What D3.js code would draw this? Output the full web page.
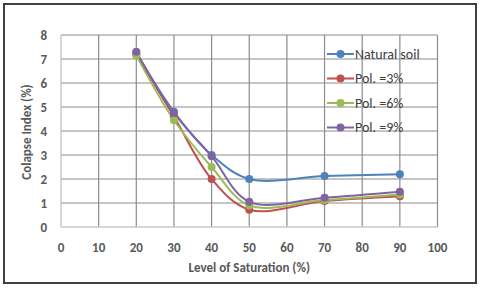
<!DOCTYPE html>
<html>
<head>
<meta charset="utf-8">
<script src="https://cdn.jsdelivr.net/npm/d3@7"></script>
<style>
  body { margin: 0; background: #fff; }
  svg { display: block; font-family: Calibri, Carlito, "Liberation Sans", "Open Sans", sans-serif; }
</style>
</head>
<body>
<div id="chart"></div>
<script>
// data
var saturation = [20, 30, 40, 50, 70, 90];
var seriesNames = ["Natural soil", "Pol. =3%", "Pol. =6%", "Pol. =9%"];
var naturalSoil = [7.25, 4.8, 3.0, 2.0, 2.12, 2.2];
var pol3 = [7.2, 4.6, 2.0, 0.72, 1.08, 1.28];
var pol6 = [7.15, 4.45, 2.5, 0.9, 1.12, 1.35];
var pol9 = [7.3, 4.75, 2.95, 1.05, 1.22, 1.47];
var xTicks = [0, 10, 20, 30, 40, 50, 60, 70, 80, 90, 100];
var yTicks = [0, 1, 2, 3, 4, 5, 6, 7, 8];

var colors = ["#4F81BD", "#C0504D", "#9BBB59", "#8064A2"];
var allSeries = [naturalSoil, pol3, pol6, pol9];

var W = 480, H = 288;
var svg = d3.select("#chart").append("svg").attr("width", W).attr("height", H);

// outer frame
svg.append("rect").attr("x", 4).attr("y", 4).attr("width", 472).attr("height", 279)
  .attr("fill", "#fff").attr("stroke", "#404040").attr("stroke-width", 2);

var x = d3.scaleLinear().domain([0, 100]).range([61, 437.5]);
var y = d3.scaleLinear().domain([0, 8]).range([227, 35]);

// grid
svg.append("g").selectAll("line").data(xTicks.slice(1)).enter().append("line")
  .attr("x1", function(d) { return x(d); }).attr("x2", function(d) { return x(d); })
  .attr("y1", y(8)).attr("y2", y(0))
  .attr("stroke", "#8c8c8c").attr("stroke-width", 1.2);
svg.append("g").selectAll("line").data(yTicks.slice(1)).enter().append("line")
  .attr("x1", x(0)).attr("x2", x(100))
  .attr("y1", function(d) { return y(d); }).attr("y2", function(d) { return y(d); })
  .attr("stroke", "#8c8c8c").attr("stroke-width", 1.2);

// axes lines
svg.append("line").attr("x1", x(0)).attr("x2", x(0)).attr("y1", y(8)).attr("y2", y(0))
  .attr("stroke", "#c8c8c8").attr("stroke-width", 1.5);
svg.append("line").attr("x1", x(0)).attr("x2", x(100)).attr("y1", y(0)).attr("y2", y(0))
  .attr("stroke", "#c8c8c8").attr("stroke-width", 1.5);

// tick labels
svg.append("g").selectAll("text").data(xTicks).enter().append("text")
  .attr("x", function(d) { return x(d); }).attr("y", 252)
  .attr("text-anchor", "middle").attr("font-size", 13).attr("font-weight", "bold")
  .attr("fill", "#595959").text(function(d) { return d; });
svg.append("g").selectAll("text").data(yTicks).enter().append("text")
  .attr("x", 47).attr("y", function(d) { return y(d) + 4.5; })
  .attr("text-anchor", "end").attr("font-size", 13).attr("font-weight", "bold")
  .attr("fill", "#595959").text(function(d) { return d; });

// axis titles
svg.append("text").attr("x", x(50)).attr("y", 272).attr("text-anchor", "middle")
  .attr("font-size", 13).attr("font-weight", "bold").attr("fill", "#595959")
  .text("Level of Saturation (%)");
svg.append("text").attr("transform", "translate(31," + (y(4) + 1) + ") rotate(-90)")
  .attr("text-anchor", "middle").attr("font-size", 13).attr("font-weight", "bold")
  .attr("fill", "#595959").text("Colapse Index (%)");

// lines
var line = d3.line()
  .x(function(d, i) { return x(saturation[i]); })
  .y(function(d) { return y(d); })
  .curve(d3.curveCatmullRom.alpha(0.5));

var g = svg.append("g");
allSeries.forEach(function(vals, k) {
  g.append("path").attr("d", line(vals)).attr("fill", "none")
    .attr("stroke", colors[k]).attr("stroke-width", 2);
});
allSeries.forEach(function(vals, k) {
  g.selectAll(".m" + k).data(vals).enter().append("circle")
    .attr("cx", function(d, i) { return x(saturation[i]); })
    .attr("cy", function(d) { return y(d); })
    .attr("r", 4).attr("fill", colors[k]);
});

// legend
var legend = svg.append("g");
seriesNames.forEach(function(name, k) {
  var ly = 54 + k * 24.5;
  legend.append("line").attr("x1", 327).attr("x2", 354).attr("y1", ly).attr("y2", ly)
    .attr("stroke", colors[k]).attr("stroke-width", 2);
  legend.append("circle").attr("cx", 340.5).attr("cy", ly).attr("r", 4).attr("fill", colors[k]);
  legend.append("text").attr("x", 355).attr("y", ly + 4.5).attr("font-size", 14)
    .attr("fill", "#404040").text(name);
});
</script>
</body>
</html>
